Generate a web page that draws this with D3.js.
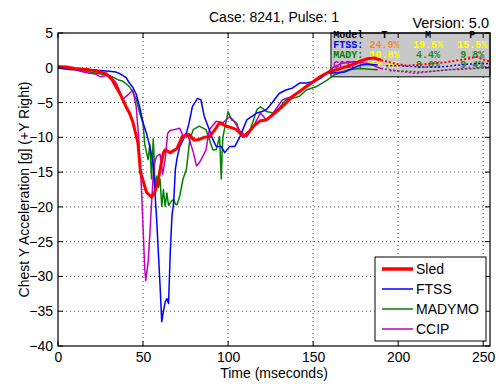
<!DOCTYPE html>
<html><head><meta charset="utf-8">
<script src="https://cdn.jsdelivr.net/npm/d3@7"></script>
<style>body{margin:0;background:#fff}svg{display:block}text{font-family:"Liberation Sans",Arial,sans-serif}</style>
</head><body><svg id="c" width="499" height="386"></svg>
<script>
const seriesNames = ["Sled","FTSS","MADYMO","CCIP"];
const seriesColors = ["#ff0000","#0000ff","#008000","#c000c0"];
const xTicks = [0,50,100,150,200,250];
const yTicks = [5,0,-5,-10,-15,-20,-25,-30,-35,-40];

const sledT = [0,5,10,18.6,25,28.5,32,34,37,40,42,44,46,47,48.5,50,52,55,57,58,59,60.5,62,63,66,70,73,77,80,83,86,89,92,95,99,102,105,109,112,115,119,122.6,126,130,134,138,142,146,150,154,160,165,170,174.5,178,182,186,190,195,200,205,210,215,220,228,236,241,246,250,254];
const sledV = [0.2,0.1,-0.1,-0.3,-0.6,-0.9,-1.8,-2.7,-4,-5.6,-6.5,-7.8,-9.8,-10.8,-15,-16.2,-17.9,-18.6,-17.8,-17,-16,-14,-12.2,-11.8,-12.2,-11.6,-9.9,-9.6,-10.4,-10.3,-10,-9.9,-9,-7.9,-8.4,-8.6,-8.9,-9.9,-9.3,-8.4,-7.6,-7.5,-6.8,-6,-5.1,-4.1,-3.4,-2.7,-2,-1.3,-0.5,-0.2,0.2,0.6,1,1.3,1.4,1.1,0.8,0.5,0.3,0.4,0.5,0.6,0.8,1.1,1.3,1.6,1.2,0.9];

const ftssT = [0,5,10,15,20,25,30,34,36,38,40,42,44,46,48,50,52,54,56,57,58,59,60,61,62,63,64,65,66,67,68,69,70,71.6,73.5,75.5,77,79,82,84,86,89,91,93,96,98,101,104,107,111,114,117,120,122.6,126,130,134,138,142,146,150,152,155,158,163,168.5,173,178,183,188,193,200,207,215,224.5,232,240,246,254];
const ftssV = [0,-0.1,-0.2,-0.3,-0.3,-0.4,-0.5,-0.6,-0.8,-1.1,-1.4,-2.2,-2.8,-3.8,-5.6,-7.9,-9.4,-11.3,-13.8,-17.9,-21.8,-26.5,-31.3,-36.5,-35,-33.7,-33.2,-33.9,-26.5,-21.3,-19.4,-14.6,-13,-11.3,-10.4,-9.4,-8,-5.6,-4.4,-4.6,-7,-8.9,-10.3,-11.3,-11.3,-12.2,-11.3,-11.3,-9.9,-7.5,-7,-6.5,-6.3,-6,-5,-3.7,-3.2,-2.9,-2.2,-2.2,-2,-1.8,-1.4,-0.8,-0.7,-0.6,-0.1,0.4,0.5,0.4,0.3,0.3,0.2,0.1,0.1,0.3,0.5,0.6,0.6];

const madyT = [0,5,10,18.7,25,32,36,38,42,44,46,48,50,51,53,54,55,56,56.5,57,58,59,60,61,62,63,64,65,66,68,69,70,71.6,73.5,75.5,77.5,79.5,83,87,89,91,93,95,95.5,96,96.5,97,100,102,105,107,109,113,117,119,122.6,126.5,130,134,138,142,146,152,158,162.7,170.5,178,183,188,195,205,212.8,220,230,240,246,254];
const madyV = [0,-0.2,-0.3,-0.6,-0.9,-1.3,-1.8,-1.9,-2.7,-3.5,-4.5,-6.5,-8,-11,-13.2,-11,-16,-10.2,-12.8,-17.5,-15.6,-17.2,-16,-19.9,-17.5,-19.9,-18,-19.8,-19.4,-18.9,-19.6,-19.7,-18.4,-16,-14.6,-10.3,-8.9,-8.4,-8.9,-10.3,-11.8,-11.8,-9.9,-13,-16,-12.2,-9.9,-6.3,-7.5,-7.9,-9.4,-9.9,-8.9,-6,-5.6,-6.3,-6.5,-5.8,-4.6,-4.4,-4.1,-3.2,-2.7,-1.8,-1,-0.3,-0.1,-0.2,-0.3,-0.4,-0.5,-0.6,-0.5,-0.3,-0.2,-0.1,0];

const ccipT = [0,5,10,15,18.6,22,25,28.5,30.5,34.3,36,38,40,42,44,46,47.5,48,49,50,51,51.6,53,54,55,56,57,58,60,61.6,63,64.5,66,68,71.6,73.6,75.5,77.5,79.6,81.4,83,85,87,89,93,97,101,103,107,111,115,119,122.6,126.5,132,138,142,146,152,158,162,166.5,174.4,182,190,196,203,211,217,224,232,240,247,254];
const ccipV = [0,-0.2,-0.3,-0.6,-0.8,-0.9,-1.3,-1.1,-1.1,-2.2,-3.2,-4.6,-4.1,-3.7,-3.2,-5.6,-10.3,-13,-17,-23,-28.9,-30.6,-27.9,-24,-19.4,-15.5,-13.5,-12.7,-12.4,-15.3,-13.2,-9.4,-9.0,-8.9,-8.7,-9.9,-9.4,-10.5,-12.2,-14.1,-13.7,-12.8,-11.8,-8.9,-7.7,-7.9,-7,-7.5,-9.1,-9.9,-8.4,-6.5,-7.5,-6.5,-4.6,-4.1,-3.4,-2.7,-1.8,-0.8,0.1,0.6,0.9,0.6,-0.1,-0.3,-0.6,-0.8,-0.6,-0.4,-0.2,-0.1,0,0.2];

const tableHeader = ["Model","T","M","P"];
const tableRows = ["FTSS:","MADY:","CCIP:"];
const tableValues = [["24.9%","19.5%","15.5%"],["10.8%","4.4%","9.8%"],["12.6%","8.6%","9.4%"]];
const tableValueColors = [["#f08a30","#ffff00","#ffff00"],["#ffff00","#228b22","#228b22"],["#ffff00","#228b22","#228b22"]];
const tableRowColors = ["#0000ff","#008000","#c000c0"];

const svg = d3.select("#c");
const L=58, T=33, R=490, B=346;
const x = d3.scaleLinear().domain([0,254]).range([L,R]);
const y = d3.scaleLinear().domain([-40,5]).range([B,T]);

// grid
const g = svg.append("g");
g.selectAll(".gx").data(xTicks.filter(d=>d>0&&d<254)).join("line")
 .attr("x1",d=>x(d)).attr("x2",d=>x(d)).attr("y1",T).attr("y2",B)
 .attr("stroke","#444").attr("stroke-width",1).attr("stroke-dasharray","1,3");
g.selectAll(".gy").data(yTicks.filter(d=>d>-40&&d<5)).join("line")
 .attr("y1",d=>y(d)).attr("y2",d=>y(d)).attr("x1",L).attr("x2",R)
 .attr("stroke","#444").attr("stroke-width",1).attr("stroke-dasharray","1,3");

// gray table box
const bx0=x(160.5), by1=y(-1.3);
svg.append("rect").attr("x",bx0).attr("y",T).attr("width",R-bx0).attr("height",by1-T)
 .attr("fill","#c8c8c8").attr("stroke","#000").attr("stroke-width",1);
const colX = [x(161.8), x(192), x(217.5), x(243.5)];
const rowY = [37.5, 47.5, 58, 68];
const tf = 'font-family:"Liberation Mono","Courier New",monospace;font-weight:bold;font-size:10px';
svg.append("g").selectAll("text").data(tableHeader).join("text")
 .attr("x",(d,i)=>colX[i]).attr("y",rowY[0]).attr("text-anchor",(d,i)=>i?"middle":"start")
 .attr("style",tf).attr("fill","#000").text(d=>d);
tableRows.forEach((r,ri)=>{
  svg.append("text").attr("x",colX[0]).attr("y",rowY[ri+1]).attr("style",tf).attr("fill",tableRowColors[ri]).text(r);
  tableValues[ri].forEach((v,ci)=>{
    svg.append("text").attr("x",colX[ci+1]).attr("y",rowY[ri+1]).attr("text-anchor","middle")
     .attr("style",tf).attr("fill",tableValueColors[ri][ci]).text(v);
  });
});

// lines
const data = [[sledT,sledV],[ftssT,ftssV],[madyT,madyV],[ccipT,ccipV]];
const cut = 190;
const line = d3.line().x(d=>x(d[0])).y(d=>y(d[1]));
svg.append("clipPath").attr("id","cp").append("rect").attr("x",L).attr("y",T).attr("width",R-L).attr("height",B-T);
const lg = svg.append("g").attr("clip-path","url(#cp)");
const order = [2,3,1,0];
order.forEach(i=>{
  const pts = data[i][0].map((t,k)=>[t,data[i][1][k]]);
  const solid = pts.filter(p=>p[0]<=cut);
  const dotted = pts.filter(p=>p[0]>=cut);
  const w = i===0?3:1.5;
  lg.append("path").attr("d",line(solid)).attr("fill","none").attr("stroke",seriesColors[i]).attr("stroke-width",w).attr("stroke-linejoin","round");
  lg.append("path").attr("d",line(dotted)).attr("fill","none").attr("stroke",seriesColors[i]).attr("stroke-width",i===0?2:1.5).attr("stroke-dasharray","2,2");
});

// axes frame
svg.append("rect").attr("x",L).attr("y",T).attr("width",R-L).attr("height",B-T).attr("fill","none").attr("stroke","#000").attr("stroke-width",1.2);
const tk = svg.append("g").attr("stroke","#000").attr("stroke-width",1);
xTicks.forEach(d=>{
  tk.append("line").attr("x1",x(d)).attr("x2",x(d)).attr("y1",B).attr("y2",B-5);
  tk.append("line").attr("x1",x(d)).attr("x2",x(d)).attr("y1",T).attr("y2",T+5);
});
yTicks.forEach(d=>{
  tk.append("line").attr("y1",y(d)).attr("y2",y(d)).attr("x1",L).attr("x2",L+5);
  tk.append("line").attr("y1",y(d)).attr("y2",y(d)).attr("x1",R).attr("x2",R-5);
});
const xAxis = d3.axisBottom(x).tickValues(xTicks).tickSize(0).tickPadding(6);
const ax = svg.append("g").attr("transform",`translate(0,${B})`).call(xAxis);
ax.select(".domain").remove();
ax.selectAll("text").attr("font-size",14).attr("font-family","Liberation Sans, Arial").attr("fill","#000");
const yAxis = d3.axisLeft(y).tickValues(yTicks).tickSize(0).tickPadding(5);
const ay = svg.append("g").attr("transform",`translate(${L},0)`).call(yAxis);
ay.select(".domain").remove();
ay.selectAll("text").attr("font-size",14).attr("font-family","Liberation Sans, Arial").attr("fill","#000");

// titles
svg.append("text").attr("x",(L+R)/2).attr("y",21.5).attr("text-anchor","middle").attr("font-size",14).text("Case: 8241, Pulse: 1");
svg.append("text").attr("x",489).attr("y",27.5).attr("text-anchor","end").attr("font-size",14.5).text("Version: 5.0");
svg.append("text").attr("x",(L+R)/2).attr("y",378).attr("text-anchor","middle").attr("font-size",14).text("Time (mseconds)");
svg.append("text").attr("transform",`translate(29,${(T+B)/2}) rotate(-90)`).attr("text-anchor","middle").attr("font-size",14).text("Chest Y Acceleration [g] (+Y Right)");

// legend
const lgx=375, lgy=257, lgw=111, lgh=84;
svg.append("rect").attr("x",lgx).attr("y",lgy).attr("width",lgw).attr("height",lgh).attr("fill","#fff").attr("stroke","#000").attr("stroke-width",1);
seriesNames.forEach((n,i)=>{
  const yy = lgy + 12 + i*20;
  svg.append("line").attr("x1",382).attr("x2",413).attr("y1",yy).attr("y2",yy).attr("stroke",seriesColors[i]).attr("stroke-width",i===0?3.5:1.5);
  svg.append("text").attr("x",416).attr("y",yy+5).attr("font-size",14).text(n);
});
</script></body></html>
